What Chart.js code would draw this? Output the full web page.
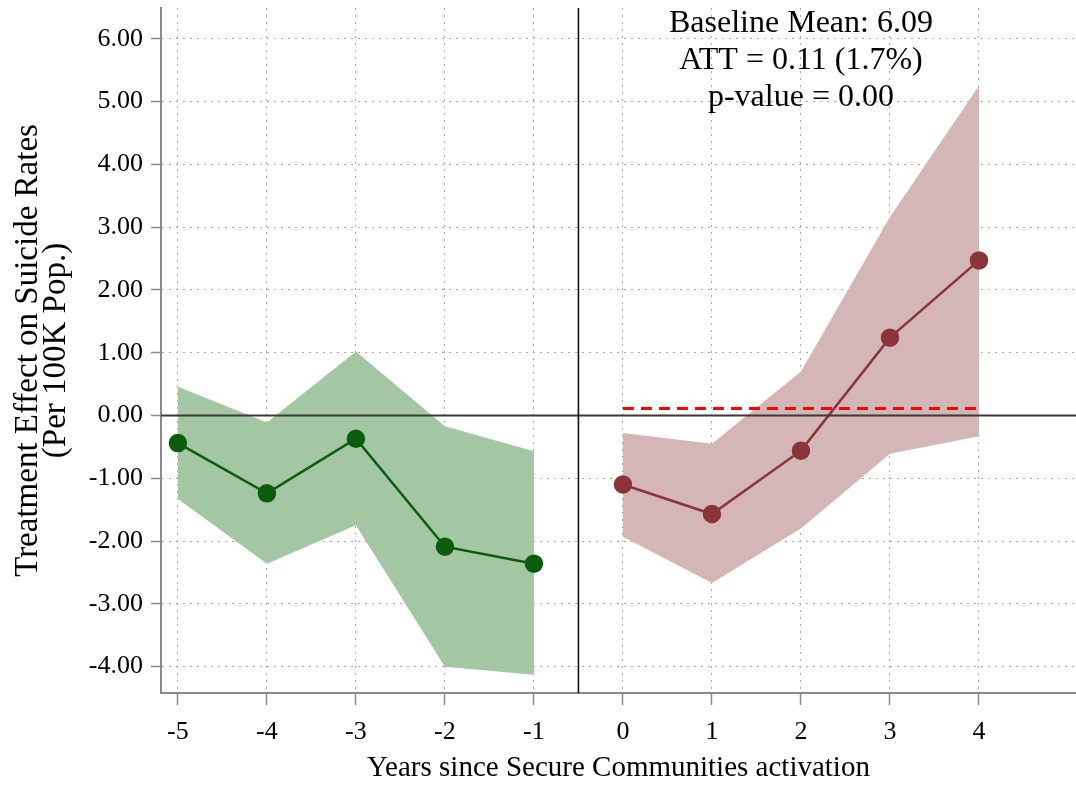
<!DOCTYPE html>
<html>
<head>
<meta charset="utf-8">
<script src="https://cdn.jsdelivr.net/npm/chart.js@4.4.1/dist/chart.umd.min.js"></script>
<style>
  html, body { margin: 0; padding: 0; background: #fff; }
  .wrapper { width: 1076px; height: 786px; }
</style>
</head>
<body>
<div class="wrapper">
  <canvas id="canvas"></canvas>
</div>
<script>
  // event-study estimates
  var preYears = [-5, -4, -3, -2, -1];
  var preEst = [-0.44, -1.24, -0.37, -2.09, -2.36];
  var preUpper = [0.46, -0.11, 1.02, -0.17, -0.57];
  var preLower = [-1.33, -2.36, -1.75, -4.00, -4.13];

  var postYears = [0, 1, 2, 3, 4];
  var postEst = [-1.10, -1.57, -0.56, 1.24, 2.47];
  var postUpper = [-0.28, -0.45, 0.70, 3.16, 5.25];
  var postLower = [-1.93, -2.67, -1.80, -0.61, -0.33];

  var att = 0.11;
  var xTicks = [-5, -4, -3, -2, -1, 0, 1, 2, 3, 4];
  var yTicks = [-4, -3, -2, -1, 0, 1, 2, 3, 4, 5, 6];
  var notes = ["Baseline Mean: 6.09", "ATT = 0.11 (1.7%)", "p-value = 0.00"];

  var serif = "'Liberation Serif', 'Times New Roman', serif";

  function pts(xs, ys) {
    return xs.map(function(x, i) { return { x: x, y: ys[i] }; });
  }

  function noPad(s) {
    s.paddingLeft = s.paddingRight = s.paddingTop = s.paddingBottom = 0;
  }

  var refLines = {
    id: 'refLines',
    afterDatasetsDraw: function(chart) {
      var ctx = chart.ctx, a = chart.chartArea;
      var xs = chart.scales.x, ys = chart.scales.y;
      ctx.save();
      ctx.strokeStyle = '#3a3a3a';
      ctx.lineWidth = 1.8;
      var y0 = ys.getPixelForValue(0);
      ctx.beginPath();
      ctx.moveTo(a.left, y0);
      ctx.lineTo(a.right, y0);
      ctx.stroke();
      var xv = xs.getPixelForValue(-0.5);
      ctx.strokeStyle = '#111';
      ctx.lineWidth = 1.6;
      ctx.beginPath();
      ctx.moveTo(xv, a.top);
      ctx.lineTo(xv, a.bottom);
      ctx.stroke();

      // annotation block, first baseline anchored in data units
      ctx.fillStyle = '#000';
      ctx.font = '32px ' + serif;
      ctx.textAlign = 'center';
      ctx.textBaseline = 'alphabetic';
      var tx = xs.getPixelForValue(2);
      var ty = ys.getPixelForValue(6.1);
      for (var i = 0; i < notes.length; i++) {
        ctx.fillText(notes[i], tx, ty + i * 37);
      }
      ctx.restore();
    }
  };

  var ctx = document.getElementById('canvas').getContext('2d');
  new Chart(ctx, {
    type: 'line',
    data: {
      datasets: [
        { data: pts(postYears, postYears.map(function() { return att; })), borderColor: '#ff0000', borderWidth: 3, borderDash: [11, 7], pointRadius: 0, fill: false },
        { data: pts(preYears, preEst), borderColor: '#0b5d0b', backgroundColor: '#0b5d0b', borderWidth: 2.5, pointRadius: 8, fill: false },
        { data: pts(postYears, postEst), borderColor: '#8b3439', backgroundColor: '#8b3439', borderWidth: 2.5, pointRadius: 8, fill: false },
        { data: pts(preYears, preUpper), borderWidth: 0, pointRadius: 0, backgroundColor: '#a3c7a3', fill: '+1' },
        { data: pts(preYears, preLower), borderWidth: 0, pointRadius: 0, fill: false },
        { data: pts(postYears, postUpper), borderWidth: 0, pointRadius: 0, backgroundColor: '#d5b6b7', fill: '+1' },
        { data: pts(postYears, postLower), borderWidth: 0, pointRadius: 0, fill: false }
      ]
    },
    options: {
      responsive: true,
      maintainAspectRatio: false,
      animation: false,
      events: [],
      layout: { autoPadding: false, padding: { top: 8, right: 0, left: 0, bottom: 0 } },
      plugins: { legend: { display: false }, tooltip: { enabled: false } },
      scales: {
        x: {
          type: 'linear',
          min: -5.19,
          max: 5.09,
          afterBuildTicks: function(s) { s.ticks = xTicks.map(function(v) { return { value: v }; }); },
          afterFit: function(s) { s.height = 93; noPad(s); },
          border: { display: true, color: '#8a8a8a', width: 2, dash: [2, 5] },
          grid: { color: '#a8a8a8', lineWidth: 1, tickLength: 12, tickColor: '#8a8a8a', tickBorderDash: [], tickWidth: 1.5 },
          ticks: { color: '#000', padding: 12, font: { family: serif, size: 26 }, maxRotation: 0, autoSkip: false },
          title: { display: true, text: 'Years since Secure Communities activation', color: '#000', font: { family: serif, size: 29 }, padding: { top: 4, bottom: 0 } }
        },
        y: {
          min: -4.42,
          max: 6.49,
          afterBuildTicks: function(s) { s.ticks = yTicks.map(function(v) { return { value: v }; }); },
          afterFit: function(s) { s.width = 161; noPad(s); },
          border: { display: true, color: '#8a8a8a', width: 2, dash: [2, 5] },
          grid: { color: '#a8a8a8', lineWidth: 1, tickLength: 10, tickColor: '#8a8a8a', tickBorderDash: [], tickWidth: 1.5 },
          ticks: { color: '#000', padding: 8, font: { family: serif, size: 26 }, callback: function(v) { return v.toFixed(2); } },
          title: { display: true, text: ['Treatment Effect on Suicide Rates', '(Per 100K Pop.)'], color: '#000', font: { family: serif, size: 33, lineHeight: 0.85 }, padding: { top: 14, bottom: 0 } }
        }
      }
    },
    plugins: [refLines]
  });
</script>
</body>
</html>
